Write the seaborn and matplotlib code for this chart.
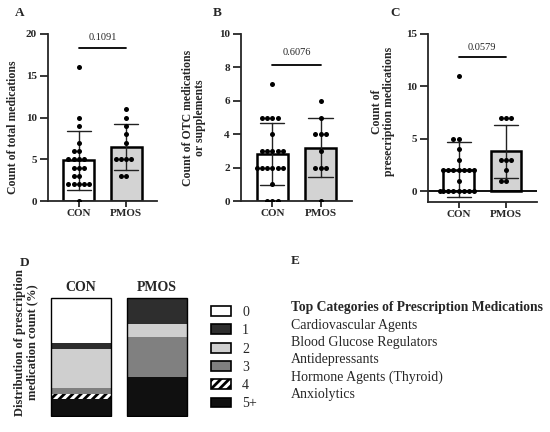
import numpy as np
import pandas as pd
import matplotlib
matplotlib.use('Agg')
import matplotlib.pyplot as plt
from matplotlib.patches import Patch
import seaborn as sns

# ── DATA ──────────────────────────────────────────────────
groups = ['CON', 'PMOS']
con_total = [16, 10, 9, 7, 6, 6, 5, 5, 5, 5, 4, 4, 4, 3, 3, 2, 2, 2, 2, 2, 0]
pmos_total = [11, 10, 9, 8, 7, 5, 5, 5, 5, 3, 3]
con_otc = [7, 5, 5, 5, 5, 4, 3, 3, 3, 3, 3, 2, 2, 2, 2, 2, 2, 1, 0, 0, 0]
pmos_otc = [6, 5, 4, 4, 4, 3, 2, 2, 2, 0]
con_rx = [11, 5, 5, 4, 3, 2, 2, 2, 2, 2, 2, 2, 1, 0, 0, 0, 0, 0, 0, 0, 0]
pmos_rx = [7, 7, 7, 3, 3, 3, 2, 1, 1]
p_values = ['0.1091', '0.6076', '0.0579']

count_levels = ['0', '1', '2', '3', '4', '5+']
level_colors = ['white', '#2e2e2e', '#cfcfcf', '#808080', 'white', '#101010']

top_categories = ['Cardiovascular Agents', 'Blood Glucose Regulators',
                  'Antidepressants', 'Hormone Agents (Thyroid)', 'Anxiolytics']

# ── STYLE ─────────────────────────────────────────────────
sns.set_style('ticks')
plt.rcParams['font.family'] = ['Liberation Serif', 'DejaVu Serif']
plt.rcParams['hatch.linewidth'] = 2.0
plt.rcParams['hatch.color'] = 'black'

fig = plt.figure(figsize=(5.5, 4.32), dpi=100)


def long_df(con, pmos):
    return pd.DataFrame({'group': ['CON'] * len(con) + ['PMOS'] * len(pmos),
                         'value': con + pmos})


def bar_panel(ax, con, pmos, ylim, yticks, ylabel, lab_x, lab_y, pval, line_y, text_y):
    df = long_df(con, pmos)
    sns.barplot(data=df, x='group', y='value', hue='group', order=groups,
                palette=['white', '#d3d3d3'], legend=False, width=0.65,
                errorbar='sd', capsize=0.5, edgecolor='black', linewidth=1.8,
                err_kws={'color': '#222222', 'linewidth': 1.0}, ax=ax)
    sns.swarmplot(data=df, x='group', y='value', order=groups, color='black',
                  size=3.6, ax=ax, zorder=5)
    ax.set_xlim(-0.65, 1.65)
    ax.set_ylim(*ylim)
    ax.set_yticks(yticks)
    ax.set_xlabel('')
    ax.set_ylabel(ylabel, fontsize=8.5, fontweight='bold', linespacing=1.05)
    ax.yaxis.set_label_coords(lab_x, lab_y)
    for s in ['top', 'right']:
        ax.spines[s].set_visible(False)
    for s in ['left', 'bottom']:
        ax.spines[s].set_linewidth(1.3)
    ax.tick_params(axis='y', length=6, width=1.3, pad=2, labelsize=8)
    ax.tick_params(axis='x', length=4, width=1.3, pad=2, labelsize=8)
    for t in ax.get_xticklabels() + ax.get_yticklabels():
        t.set_fontweight('bold')
    ax.plot([0, 1], [line_y, line_y], color='black', lw=1.3)
    ax.text(0.5, text_y, pval, ha='center', va='center', fontsize=7.5)


# ── PANEL A ───────────────────────────────────────────────
axA = fig.add_axes([0.0873, 0.5347, 0.198, 0.3866])
bar_panel(axA, con_total, pmos_total, (0, 20), [0, 5, 10, 15, 20],
          'Count of total medications', -0.27, 0.44, p_values[0], 18.3, 19.6)

# ── PANEL B ───────────────────────────────────────────────
axB = fig.add_axes([0.438, 0.5347, 0.2018, 0.3866])
bar_panel(axB, con_otc, pmos_otc, (0, 10), [0, 2, 4, 6, 8, 10],
          'Count of OTC medications\nor supplements', -0.31, 0.5, p_values[1], 8.14, 8.9)

# ── PANEL C ───────────────────────────────────────────────
axC = fig.add_axes([0.778, 0.5324, 0.198, 0.3889])
bar_panel(axC, con_rx, pmos_rx, (-1.05, 15), [0, 5, 10, 15],
          'Count of\npresecription medications', -0.30, 0.54, p_values[2], 12.8, 13.75)
axC.axhline(0, color='black', lw=1.3, zorder=1)

# ── PANEL D: distribution of prescription counts ─────────
axD = fig.add_axes([40 / 550, 1 - 417 / 432, 160 / 550, 120 / 432])
for i, vals in enumerate([con_rx, pmos_rx]):
    lev = pd.Series(np.minimum(vals, 5)).map(lambda v: '5+' if v >= 5 else str(v))
    pct = lev.value_counts(normalize=True).reindex(count_levels, fill_value=0) * 100
    bottom = 0
    for name, color in zip(count_levels, level_colors):
        axD.bar(i, pct[name], bottom=bottom, width=0.79, color=color,
                hatch='////' if name == '4' else None, edgecolor='black', linewidth=0)
        bottom += pct[name]
    axD.bar(i, 100, width=0.79, fill=False, edgecolor='black', linewidth=1.0)
    axD.text(i, -3, groups[i], ha='center', va='bottom', fontsize=10, fontweight='bold')
axD.set_xlim(-0.54, 1.566)
axD.set_ylim(100.5, -0.5)
axD.set_xticks([])
axD.set_yticks([])
for s in axD.spines.values():
    s.set_visible(False)
axD.set_ylabel('Distribution of prescription\nmedication count (%)', fontsize=9,
               fontweight='bold', linespacing=1.05)
axD.yaxis.set_label_coords(-0.01, 0.62)

handles = [Patch(facecolor=c, edgecolor='black', linewidth=1.2,
                 hatch='////' if n == '4' else None)
           for n, c in zip(count_levels, level_colors)]
fig.legend(handles, count_levels, loc='upper left', bbox_to_anchor=(211 / 550, 1 - 306 / 432),
           frameon=False, fontsize=10, handlelength=1.44, handleheight=0.72,
           labelspacing=0.38, handletextpad=0.8, borderpad=0, borderaxespad=0)

# ── PANEL E: text list ────────────────────────────────────
fig.text(291 / 550, 1 - 308 / 432, 'Top Categories of Prescription Medications',
         fontsize=9.8, fontweight='bold', va='center', ha='left')
for k, name in enumerate(top_categories):
    fig.text(291 / 550, 1 - (325 + 17.3 * k) / 432, name, fontsize=10,
             va='center', ha='left')

# ── PANEL LETTERS ─────────────────────────────────────────
for letter, x, y in [('A', 20, 13), ('B', 217, 13), ('C', 395, 13),
                     ('D', 25, 263), ('E', 295, 261)]:
    fig.text(x / 550, 1 - y / 432, letter, fontsize=9.5, fontweight='bold',
             ha='center', va='center')

fig.savefig('out.png', dpi=100, facecolor='white')
